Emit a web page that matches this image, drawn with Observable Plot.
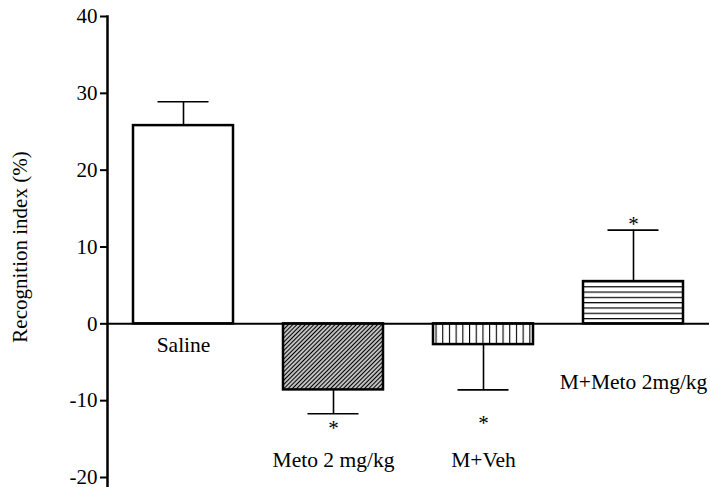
<!DOCTYPE html>
<html>
<head>
<meta charset="utf-8">
<script src="https://cdn.jsdelivr.net/npm/d3@7"></script>
<script src="https://cdn.jsdelivr.net/npm/@observablehq/plot@0.6"></script>
<style>
  html, body { margin: 0; padding: 0; background: #fff; }
  #chart svg { display: block; }
</style>
</head>
<body>
<div id="chart"></div>
<script>
const categories = ["Saline", "Meto 2 mg/kg", "M+Veh", "M+Meto 2mg/kg"];
const means = [25.8, -8.6, -2.7, 5.5];
const sems = [3.1, 3.1, 5.9, 6.7];
const fills = ["white", "url(#hatchDiag)", "url(#hatchVert)", "url(#hatchHoriz)"];
const starY = [null, -13.15, -12.5, 13.3];
const labelY = [-2.8, -17.8, -17.8, -7.55];
const yTicks = [-20, -10, 0, 10, 20, 30, 40];
const yLabel = "Recognition index (%)";

const data = categories.map((c, i) => ({
  cat: c, mean: means[i], sem: sems[i], fill: fills[i],
  end: means[i] >= 0 ? means[i] + sems[i] : means[i] - sems[i],
  star: starY[i], ly: labelY[i]
}));
const stars = data.filter(d => d.star != null);

const font = "Liberation Serif";

const svg = Plot.plot({
  width: 710,
  height: 487,
  marginLeft: 107,
  marginRight: 1,
  marginTop: 16,
  marginBottom: 10,
  x: {domain: categories, paddingInner: 1/3, paddingOuter: 1/6, axis: null},
  y: {domain: [-20, 40]},
  color: {type: "identity"},
  marks: [
    Plot.axisY({
      ticks: yTicks, tickSize: 7, tickPadding: 3, strokeWidth: 2,
      tickFormat: d => String(d), fontSize: 21, fontFamily: font,
      label: yLabel, labelAnchor: "center", labelOffset: 95, labelArrow: "none"
    }),
    Plot.ruleX(data, {x: "cat", y1: "mean", y2: "end", stroke: "black", strokeWidth: 1.6}),
    Plot.tickY(data, {x: "cat", y: "end", stroke: "black", strokeWidth: 1.6, insetLeft: 24.5, insetRight: 24.5}),
    Plot.barY(data, {x: "cat", y: "mean", fill: "fill", stroke: "black", strokeWidth: 2.5}),
    Plot.ruleY([0], {stroke: "black", strokeWidth: 2}),
    Plot.frame({anchor: "left", stroke: "black", strokeWidth: 2.5, insetBottom: -10}),
    Plot.text(stars, {x: "cat", y: "star", text: () => "*", fontSize: 21, fontFamily: font, lineAnchor: "middle", dy: 3}),
    Plot.text(data, {x: "cat", y: "ly", text: "cat", fontSize: 21.5, fontFamily: font, lineAnchor: "middle"})
  ]
});

const s = d3.select(svg);
const defs = s.insert("defs", ":first-child");
const pd = defs.append("pattern").attr("id", "hatchDiag").attr("patternUnits", "userSpaceOnUse")
  .attr("width", 3).attr("height", 3).attr("patternTransform", "rotate(45)");
pd.append("rect").attr("width", 3).attr("height", 3).attr("fill", "white");
pd.append("line").attr("x1", 1.5).attr("y1", 0).attr("x2", 1.5).attr("y2", 3).attr("stroke", "black").attr("stroke-width", 1.5);
const pv = defs.append("pattern").attr("id", "hatchVert").attr("patternUnits", "userSpaceOnUse")
  .attr("width", 6.7).attr("height", 10);
pv.append("rect").attr("width", 6.7).attr("height", 10).attr("fill", "white");
pv.append("line").attr("x1", 0.5).attr("y1", 0).attr("x2", 0.5).attr("y2", 10).attr("stroke", "black").attr("stroke-width", 1.2);
const ph = defs.append("pattern").attr("id", "hatchHoriz").attr("patternUnits", "userSpaceOnUse")
  .attr("width", 10).attr("height", 5.3);
ph.append("rect").attr("width", 10).attr("height", 5.3).attr("fill", "white");
ph.append("line").attr("x1", 0).attr("y1", 0.6).attr("x2", 10).attr("y2", 0.6).attr("stroke", "black").attr("stroke-width", 1.2);

document.getElementById("chart").appendChild(svg);
</script>
</body>
</html>
